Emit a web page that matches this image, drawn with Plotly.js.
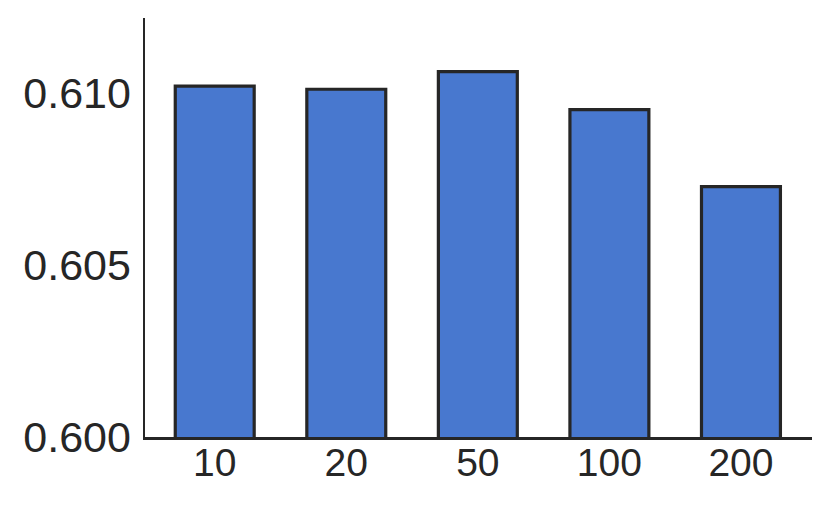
<!DOCTYPE html>
<html>
<head>
<meta charset="utf-8">
<script src="https://cdn.plot.ly/plotly-3.0.1.min.js"></script>
<style>
  html, body { margin: 0; padding: 0; background: #fff; }
  #chart { width: 831px; height: 505px; }
</style>
</head>
<body>
<div id="chart"></div>
<script>
// categories on the x axis and the bar heights
var categories = ['10', '20', '50', '100', '200'];
var scores = [0.61019, 0.61010, 0.61061, 0.60951, 0.60727];
var yTicks = [0.600, 0.605, 0.610];

var ink = '#262626';

var bars = {
  type: 'bar',
  x: categories,
  y: scores,
  width: 0.6,
  marker: {
    color: '#4878cf',
    line: {color: ink, width: 3.2}
  },
  hoverinfo: 'x+y'
};

var layout = {
  width: 831,
  height: 505,
  margin: {l: 145, r: 19, t: 18, b: 68},
  paper_bgcolor: '#fff',
  plot_bgcolor: '#fff',
  showlegend: false,
  font: {family: 'Liberation Sans, Arial, sans-serif', color: ink},
  xaxis: {
    type: 'category',
    range: [-0.53, 4.54],
    showgrid: false,
    zeroline: false,
    showline: true,
    linecolor: ink,
    linewidth: 2.5,
    ticks: '',
    ticklabelstandoff: -10,
    tickfont: {size: 39, color: ink}
  },
  yaxis: {
    range: [0.600, 0.61217],
    tickvals: yTicks,
    tickformat: '.3f',
    showgrid: false,
    zeroline: false,
    showline: true,
    linecolor: ink,
    linewidth: 2.5,
    ticks: '',
    ticklabelstandoff: 3,
    tickfont: {size: 43, color: ink}
  }
};

Plotly.newPlot('chart', [bars], layout, {displayModeBar: false, staticPlot: true});
</script>
</body>
</html>
